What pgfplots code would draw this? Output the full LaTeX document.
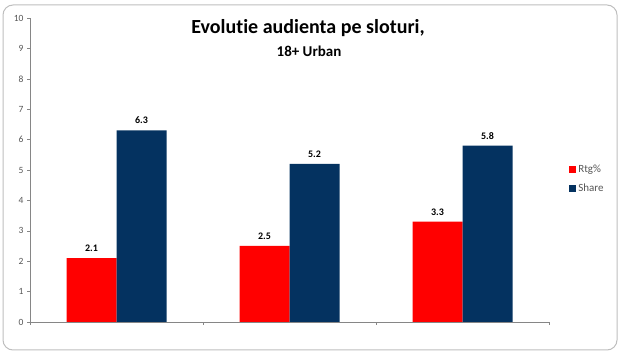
\documentclass[border=0pt]{standalone}
\usepackage{pgfplots}
\pgfplotsset{compat=1.18}
\usepackage{fontspec}
\setmainfont{Carlito}[Ligatures=NoCommon]
\definecolor{rtg}{RGB}{255,0,0}
\definecolor{share}{RGB}{4,50,96}
\definecolor{axgray}{RGB}{134,134,134}
\definecolor{bordergray}{RGB}{190,190,190}
\definecolor{txtgray}{RGB}{85,85,85}
\begin{document}
\begin{tikzpicture}[x=1pt,y=1pt]
\path (0,0) rectangle (620,355);
\draw[bordergray, line width=1pt, rounded corners=10pt] (3,5) rectangle (617,350);
\begin{axis}[at={(30pt,33pt)}, anchor=south west, scale only axis,
  width=519pt, height=304pt,
  ybar=0pt, bar width=50pt,
  ymin=0, ymax=10, xmin=-0.5, xmax=2.5,
  ytick={0,1,...,10}, xtick={-0.5,0.5,1.5,2.5}, xticklabels={},
  axis lines=left, axis line style={-, axgray},
  tick align=outside, major tick length=3pt, tick style={axgray},
  /pgf/number format/assume math mode=true,
  yticklabel style={font=\fontsize{9.5}{11}\selectfont, text=txtgray},
  nodes near coords,
  every node near coord/.append style={font=\bfseries\fontsize{10}{12}\selectfont, text=black, yshift=3pt},
  legend style={at={(1.033,0.47)}, anchor=west, draw=none, fill=none,
    font=\fontsize{11}{13}\selectfont, text=txtgray, row sep=6pt},
  legend cell align=left,
  legend image code/.code={\fill[#1,draw=none] (0pt,-3.5pt) rectangle (7pt,3.5pt);},
  clip=false]
\addplot[fill=rtg, draw=none] coordinates {(0,2.1) (1,2.5) (2,3.3)};
\addplot[fill=share, draw=none] coordinates {(0,6.3) (1,5.2) (2,5.8)};
\legend{Rtg\%, Share}
\end{axis}
\node[font=\bfseries\fontsize{20}{24}\selectfont] at (308,327) {Evolutie audienta pe sloturi,};
\node[font=\bfseries\fontsize{15}{18}\selectfont] at (309,304) {18+ Urban};
\end{tikzpicture}
\end{document}
